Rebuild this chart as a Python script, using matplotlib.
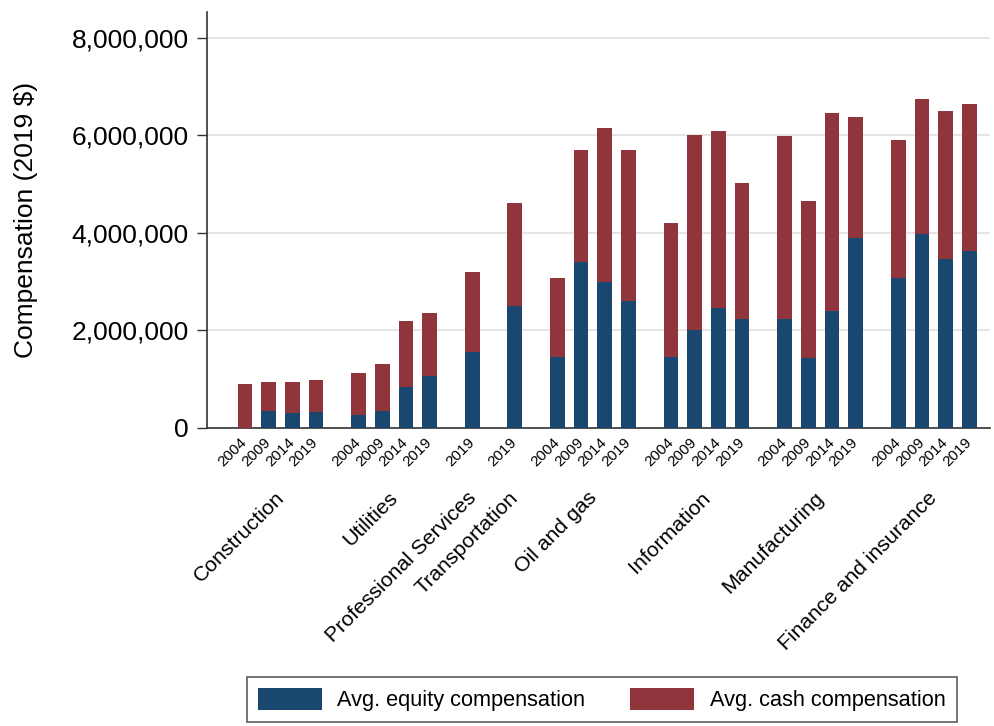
import numpy as np
import matplotlib.pyplot as plt
from matplotlib.patches import Patch
from matplotlib.ticker import FuncFormatter
from matplotlib.transforms import offset_copy

plt.rcParams['font.family'] = ['Liberation Sans', 'DejaVu Sans']

industries = ['Construction', 'Utilities', 'Professional Services', 'Transportation',
              'Oil and gas', 'Information', 'Manufacturing', 'Finance and insurance']
years = [['2004', '2009', '2014', '2019'],
         ['2004', '2009', '2014', '2019'],
         ['2019'],
         ['2019'],
         ['2004', '2009', '2014', '2019'],
         ['2004', '2009', '2014', '2019'],
         ['2004', '2009', '2014', '2019'],
         ['2004', '2009', '2014', '2019']]
# values in $ millions (2019 $)
equity = [[0.0, 0.35, 0.31, 0.33],
          [0.27, 0.35, 0.85, 1.06],
          [1.56],
          [2.51],
          [1.46, 3.41, 2.99, 2.61],
          [1.46, 2.01, 2.45, 2.24],
          [2.24, 1.43, 2.39, 3.89],
          [3.07, 3.98, 3.47, 3.63]]
cash = [[0.90, 0.60, 0.64, 0.65],
        [0.86, 0.96, 1.34, 1.30],
        [1.63],
        [2.11],
        [1.61, 2.29, 3.17, 3.09],
        [2.74, 3.99, 3.63, 2.78],
        [3.74, 3.23, 4.07, 2.48],
        [2.83, 2.77, 3.02, 3.01]]

navy = '#1a476f'
maroon = '#90353b'
group_gap = 1.8
bar_w = 0.62

fig = plt.figure(figsize=(9.95, 7.26), dpi=100)
ax = fig.add_axes([0.208, 0.4105, 0.787, 0.573])

pos, labs, eq_all, cash_all, centers = [], [], [], [], []
x = 0.0
for g in range(len(industries)):
    xs = []
    for i, yr in enumerate(years[g]):
        xs.append(x)
        labs.append(yr)
        eq_all.append(equity[g][i] * 1e6)
        cash_all.append(cash[g][i] * 1e6)
        x += 1
    pos += xs
    centers.append(np.mean(xs))
    x += group_gap - 1

ax.bar(pos, eq_all, width=bar_w, color=navy, linewidth=0, zorder=3)
ax.bar(pos, cash_all, bottom=eq_all, width=bar_w, color=maroon, linewidth=0, zorder=3)

ax.set_xlim(pos[0] - 1.6, pos[-1] + 0.87)
ax.set_ylim(0, 8.53e6)
ax.set_yticks([0, 2e6, 4e6, 6e6, 8e6])
ax.yaxis.set_major_formatter(FuncFormatter(lambda v, p: f'{int(v):,}'))
ax.tick_params(axis='y', labelsize=19, length=7, width=1, pad=6, color='#333333')
ax.grid(axis='y', color='#e4e4e4', linewidth=1.4, zorder=0)

ax.set_xticks(pos)
ax.set_xticklabels(labs, rotation=45, ha='right', va='center', rotation_mode='anchor', fontsize=11)
ax.tick_params(axis='x', length=0, pad=9)

name_tr = offset_copy(ax.get_xaxis_transform(), fig=fig, x=-6, y=-6, units='dots')
for c, name in zip(centers, industries):
    ax.text(c, -0.13, name, transform=name_tr, rotation=45,
            ha='right', va='top', rotation_mode='anchor', fontsize=15.3)

for s in ['top', 'right']:
    ax.spines[s].set_visible(False)
for s in ['left', 'bottom']:
    ax.spines[s].set_color('#333333')
    ax.spines[s].set_linewidth(1.2)

ax.set_ylabel('Compensation (2019 $)', fontsize=19, labelpad=24)

handles = [Patch(facecolor=navy, label='Avg. equity compensation'),
           Patch(facecolor=maroon, label='Avg. cash compensation')]
leg = fig.legend(handles=handles, loc='upper left', bbox_to_anchor=(0.248, 0.068),
                 ncol=2, fontsize=15.7, frameon=True, fancybox=False,
                 handlelength=2.93, handleheight=1.24, handletextpad=0.73,
                 columnspacing=2.06, borderpad=0.5, borderaxespad=0)
leg.get_frame().set_edgecolor('#333333')
leg.get_frame().set_linewidth(1.2)

fig.savefig('out.png', dpi=100)
